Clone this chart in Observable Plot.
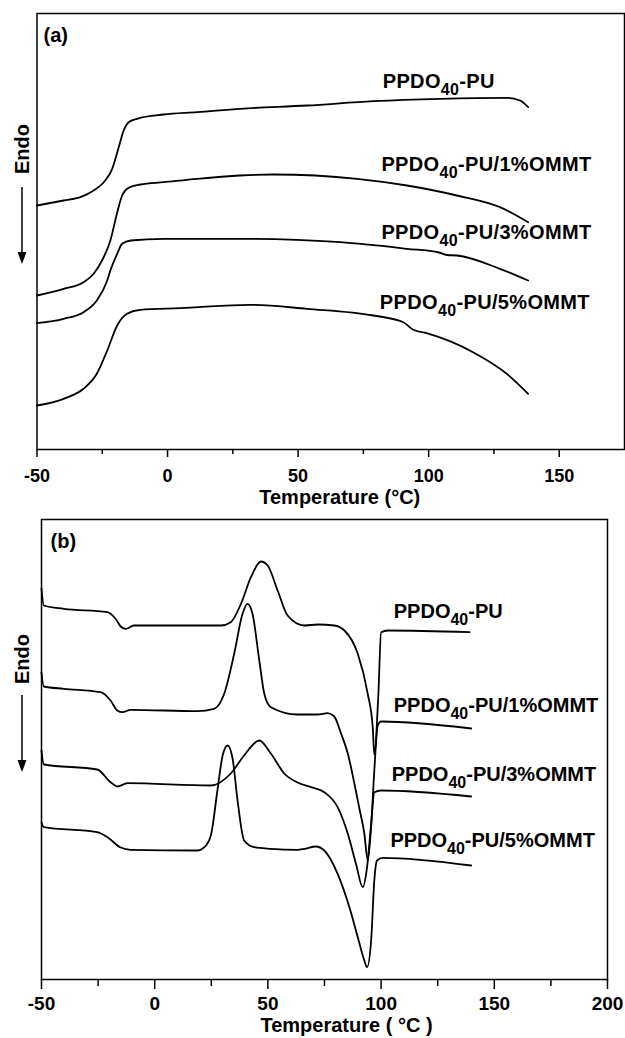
<!DOCTYPE html>
<html><head><meta charset="utf-8">
<script src="https://cdn.jsdelivr.net/npm/d3@7"></script>
<script src="https://cdn.jsdelivr.net/npm/@observablehq/plot@0.6"></script>
<style>
body{margin:0;background:#fff;}
#wrap{position:relative;width:625px;height:1038px;font-family:"Liberation Sans",Arial,sans-serif;background:#fff;}
#wrap svg{display:block;}
#pa{position:absolute;left:0;top:0;}
#pb{position:absolute;left:0;top:512px;}
#ov{position:absolute;left:0;top:0;pointer-events:none;}
#pa .curve-label text{letter-spacing:0.35px;}
</style></head><body>
<div id="wrap"><div id="pa"></div><div id="pb"></div>
<svg id="ov" width="625" height="1038" font-family="Liberation Sans, Arial, sans-serif" font-weight="bold">
  <text x="22" y="149" transform="rotate(-90 22 149)" text-anchor="middle" dominant-baseline="central" font-size="20">Endo</text>
  <line x1="22" y1="187" x2="22" y2="254" stroke="black" stroke-width="1.5"/>
  <path d="M17.5,252 L26.5,252 L22,264 Z" fill="black"/>
  <text x="22" y="659" transform="rotate(-90 22 659)" text-anchor="middle" dominant-baseline="central" font-size="20">Endo</text>
  <line x1="22" y1="695" x2="22" y2="762" stroke="black" stroke-width="1.5"/>
  <path d="M17.5,760 L26.5,760 L22,772 Z" fill="black"/>
</svg>
</div>
<script>
// ---------- data (temperature °C, heat flow a.u.) ----------
const seriesNames = ["PPDO40-PU", "PPDO40-PU/1%OMMT", "PPDO40-PU/3%OMMT", "PPDO40-PU/5%OMMT"];

// panel (a)
const aPU = [[-50,24.4],[-39.8,24.9],[-33.4,25.23],[-28.3,25.9],[-24.4,26.73],[-21.2,28.07],[-18.7,30.23],[-16.8,31.9],[-14.9,32.73],[-11.7,33.07],[-1.5,33.5],[11.3,33.73],[27.9,34.07],[53.4,34.4],[78.8,34.83],[104.4,35.07],[129.9,35.17],[135,34.9],[138.1,34.23]];
const a1 = [[-50,15.4],[-39.8,16.07],[-32.2,16.73],[-28.3,17.57],[-25.1,18.9],[-21.9,20.9],[-19.4,23.57],[-17.4,25.4],[-14.9,26.17],[-10.4,26.5],[-1.5,26.73],[11.3,27.07],[27.9,27.4],[40.6,27.5],[72.6,27.07],[91.7,26.4],[110.8,25.4],[127.3,24.23],[138.1,22.73]];
const a3 = [[-50,12.63],[-39.8,13.07],[-32.2,13.73],[-27.1,14.9],[-23.1,16.9],[-21.9,17.9],[-19.3,19.57],[-17.4,20.57],[-14.1,20.9],[-1.5,21.07],[31.7,21.07],[66.2,20.73],[91.7,20.07],[104,19.7],[107,19.45],[110.8,19.4],[127.3,18.07],[138.1,16.9]];
const a5 = [[-50,4.4],[-39.8,5.07],[-32.2,6.07],[-27.1,7.57],[-23.1,9.9],[-19.3,12.4],[-15.5,13.57],[-10.4,13.97],[4.9,14.13],[31.7,14.47],[53.4,14.07],[78.8,13.4],[90.3,12.73],[94.1,11.97],[99.2,11.63],[117,9.73],[129.9,7.57],[138.1,5.57]];

// panel (b)
const bPU = [[-50,39.1],[-49,37.4],[-40.1,37.07],[-20.9,36.73],[-17.3,36.07],[-15,35.3],[-12.8,35.07],[-9.2,35.4],[4.1,35.4],[29.2,35.4],[33.6,35.73],[38.1,37.57],[42.5,40.23],[46.9,41.8],[49.9,41.4],[54.3,38.9],[58.7,36.4],[66.1,35.4],[72,35.5],[79.3,35.4],[83.8,34.9],[89.7,32.57],[94.1,28.57],[96.3,25.23],[97,22.5],[98.8,28.57],[100,34.73],[103,34.9],[139.1,34.73]];
const b1 = [[-50,30.7],[-49,29.3],[-40.1,29.07],[-23.9,28.73],[-19.5,27.9],[-16.5,26.9],[-14.3,26.73],[-10.6,26.97],[18.9,26.83],[26.2,27.07],[30.7,28.57],[35.1,32.57],[38.8,36.57],[41,37.57],[43.2,36.57],[46.2,31.9],[48.4,28.57],[51.3,27.23],[63.1,26.5],[72,26.5],[76.4,26.63],[79.3,26.3],[82.3,24.6],[85.3,22.6],[88.2,19.6],[90.5,17.0],[92.6,14.6],[94.1,11.9],[95.6,15.3],[97,20.9],[98.5,25.4],[100,25.8],[139.8,25.1]];
const b3 = [[-50,22.9],[-49,21.5],[-25.4,21.0],[-19.5,19.73],[-16.5,19.3],[-12.1,19.63],[24.8,19.4],[33.6,20.6],[39.5,22.4],[46.2,23.9],[51.3,22.6],[57.2,20.6],[63.1,19.7],[69,19.23],[74.9,18.73],[80.8,17.23],[85.3,14.57],[88.9,11.57],[91.9,9.23],[93.8,11.23],[95.6,15.57],[97,18.73],[100,18.9],[139.8,18.3]];
const b5 = [[-50,15.7],[-49,15.23],[-25.4,14.73],[-20.9,14.23],[-15,13.2],[-10.6,12.97],[18.9,12.9],[21.8,13.2],[24.8,14.4],[27.7,18.9],[30,22.4],[32.2,23.4],[34.4,22.1],[36.6,17.9],[39.5,13.9],[44,13.23],[51.3,13.07],[63.1,12.97],[66.1,13.07],[71.2,13.3],[74.9,12.9],[80.8,10.57],[86,7.23],[89.7,4.23],[92.6,1.9],[93.8,1.23],[95.6,3.9],[97,9.9],[98.2,11.9],[100.7,12.17],[139.8,11.4]];

// tick values
const ticksA = [-50, 0, 50, 100, 150];
const minorA = [-25, 25, 75, 125];
const ticksB = [-50, 0, 50, 100, 150, 200];
const minorB = [-25, 25, 75, 125, 175];

// ---------- annotation placement (separate from data) ----------
const labelPosA = [[82.4,36.84],[81.9,28.54],[81.9,21.74],[81.3,14.74]];
const labelPosB = [[105.6,36.81],[105.6,27.37],[104.7,20.54],[104.1,13.87]];

const rows = (arr, s) => arr.map(([T, v]) => ({T, v, s}));
const dataA = [aPU, a1, a3, a5].flatMap((a, i) => rows(a, seriesNames[i]));
const dataB = [bPU, b1, b3, b5].flatMap((a, i) => rows(a, seriesNames[i]));
const labelsA = labelPosA.map(([T, v], i) => ({T, v, name: seriesNames[i]}));
const labelsB = labelPosB.map(([T, v], i) => ({T, v, name: seriesNames[i]}));

const fmt = d => String(d);
const style = {fontFamily: "'Liberation Sans', Arial, sans-serif", fontWeight: "bold", color: "black", background: "white", overflow: "visible"};

function subscript(svg) {
  d3.select(svg).selectAll("text").each(function () {
    const t = this.textContent;
    if (!t.startsWith("PPDO40")) return;
    const sel = d3.select(this);
    sel.text(null);
    sel.append("tspan").text("PPDO");
    sel.append("tspan").attr("dy", 7).attr("font-size", 16).text("40");
    sel.append("tspan").attr("dy", -7).text(t.slice(6));
  });
}

const plotA = Plot.plot({
  width: 625, height: 512,
  marginTop: 13, marginRight: 1, marginBottom: 63, marginLeft: 36.5,
  style,
  x: {domain: [-50, 175]},
  y: {domain: [0, 43.6], axis: null},
  marks: [
    Plot.line(dataA, {x: "T", y: "v", z: "s", curve: "monotone-x", stroke: "black", strokeWidth: 1.8, strokeLinejoin: "round"}),
    Plot.frame({stroke: "black", strokeWidth: 1.5}),
    Plot.axisX({ticks: ticksA, tickSize: 8, tickPadding: 12, tickFormat: fmt, fontSize: 18, label: null, strokeWidth: 1.5}),
    Plot.axisX({ticks: minorA, tickSize: 5, tickFormat: () => "", label: null, strokeWidth: 1.5}),
    Plot.text(labelsA, {x: "T", y: "v", text: "name", textAnchor: "start", fontSize: 20, className: "curve-label"}),
    Plot.text(["(a)"], {frameAnchor: "top-left", lineAnchor: "top", dx: 6.5, dy: 14, fontSize: 20}),
    Plot.text(["Temperature (°C)"], {frameAnchor: "bottom", lineAnchor: "top", dx: 9, dy: 40, fontSize: 20})
  ]
});
subscript(plotA);
document.getElementById("pa").appendChild(plotA);

const plotB = Plot.plot({
  width: 625, height: 526,
  marginTop: 7, marginRight: 18, marginBottom: 59, marginLeft: 41,
  style,
  x: {domain: [-50, 200]},
  y: {domain: [0, 46], axis: null},
  marks: [
    Plot.line(dataB, {x: "T", y: "v", z: "s", curve: "monotone-x", stroke: "black", strokeWidth: 1.8, strokeLinejoin: "round"}),
    Plot.frame({stroke: "black", strokeWidth: 1.5}),
    Plot.axisX({ticks: ticksB, tickSize: 10, tickPadding: 7, tickFormat: fmt, fontSize: 19, label: null, strokeWidth: 1.5}),
    Plot.axisX({ticks: minorB, tickSize: 7, tickFormat: () => "", label: null, strokeWidth: 1.5}),
    Plot.text(labelsB, {x: "T", y: "v", text: "name", textAnchor: "start", fontSize: 20}),
    Plot.text(["(b)"], {frameAnchor: "top-left", lineAnchor: "top", dx: 9, dy: 14, fontSize: 20}),
    Plot.text(["Temperature ( °C )"], {frameAnchor: "bottom", lineAnchor: "top", dx: 22, dy: 38, fontSize: 20})
  ]
});
subscript(plotB);
document.getElementById("pb").appendChild(plotB);
</script>
</body></html>
